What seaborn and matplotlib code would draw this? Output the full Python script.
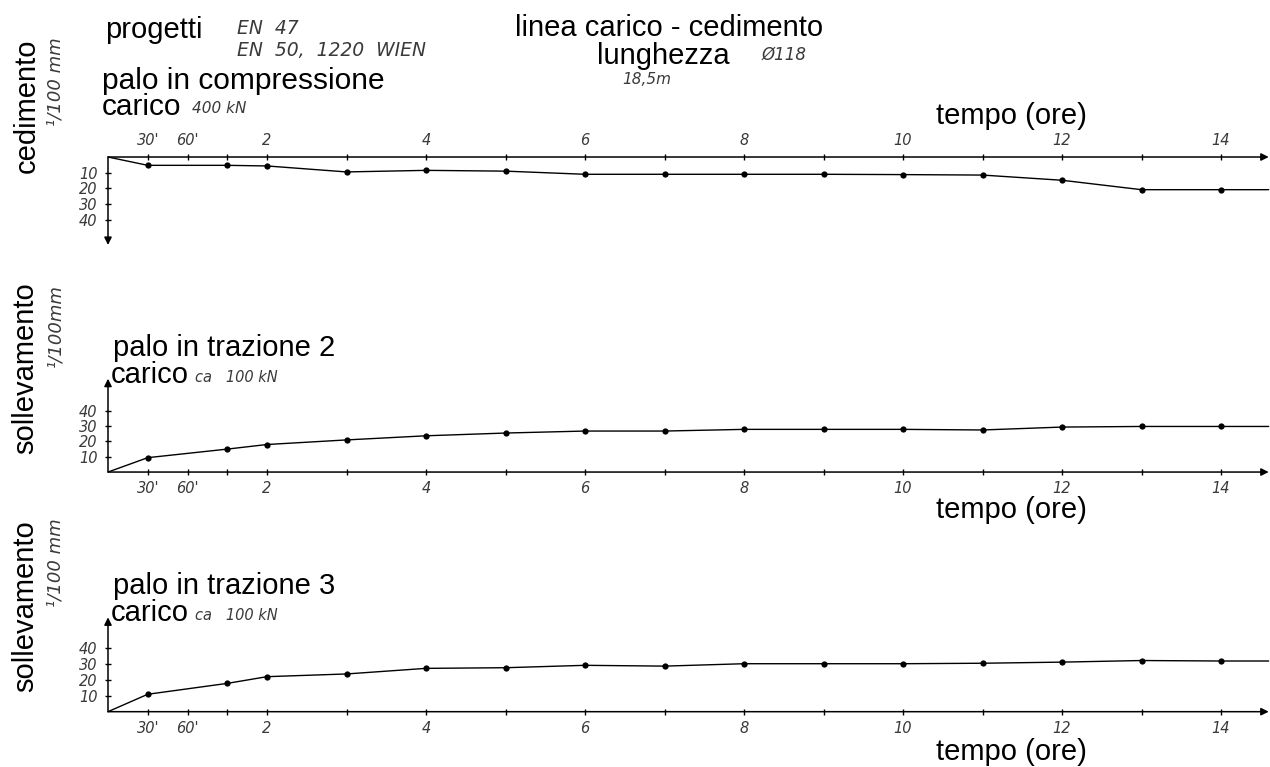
import matplotlib
matplotlib.use("Agg")
import matplotlib.pyplot as plt
import seaborn as sns
import pandas as pd

# ---------------- data ----------------
time_h = [0, 0.5, 1.5, 2, 3, 4, 5, 6, 7, 8, 9, 10, 11, 12, 13, 14, 14.6]
cedimento = [0, 5.3, 5.3, 5.7, 9.5, 8.5, 9, 11, 11, 11, 11, 11.2, 11.5, 14.8, 20.8, 20.8, 20.8]
sollevamento_2 = [0, 9.4, 15, 18, 21, 23.7, 25.5, 26.8, 26.8, 27.9, 27.9, 27.9, 27.5, 29.4, 29.8, 29.8, 29.8]
sollevamento_3 = [0, 10.9, 17.7, 21.9, 23.6, 27.1, 27.5, 29, 28.5, 30, 30, 30, 30.3, 31, 32, 31.7, 31.7]

x_ticks = [0.5, 1, 1.5, 2, 3, 4, 5, 6, 7, 8, 9, 10, 11, 12, 13, 14]
x_tick_labels = ["30'", "60'", "", "2", "", "4", "", "6", "", "8", "", "10", "", "12", "", "14"]
y_ticks = [10, 20, 30, 40]
y_tick_labels = ["10", "20", "30", "40"]

# ---------------- figure ----------------
sns.set_theme(style="white")
plt.rcParams["font.family"] = ["Liberation Sans", "DejaVu Sans"]

W, H = 1270, 767
fig = plt.figure(figsize=(W / 100, H / 100), dpi=100)
fig.patch.set_facecolor("white")

BIG = 21
SMALL = 10.5
SMALLC = "#3a3a3a"


def ft(x, y, s, size=BIG, italic=False, color="black", rot=0, ha="left", va="baseline", family=None):
    kw = {}
    if family is not None:
        kw["family"] = family
    fig.text(x / W, 1 - y / H, s, fontsize=size, fontstyle="italic" if italic else "normal",
             color=color, rotation=rot, ha=ha, va=va, **kw)


X0 = 108
XMAX = (W - X0) / 79.5
X_END = 14.6


def panel(top_px, bottom_px, ylim, values, down=False, arrow_len=60):
    ax = fig.add_axes([X0 / W, 1 - bottom_px / H, (W - X0) / W, (bottom_px - top_px) / H])
    ax.set_facecolor("none")
    df = pd.DataFrame({"t": time_h, "v": values})
    sns.lineplot(data=df, x="t", y="v", ax=ax, color="black", lw=1.0, marker="o",
                 markersize=4.5, markeredgewidth=0, markevery=slice(1, len(time_h) - 1),
                 errorbar=None, sort=False)
    ax.set_xlim(0, XMAX)
    ax.set_ylim(*ylim)
    for s in ax.spines.values():
        s.set_visible(False)
    side = "top" if down else "bottom"
    ax.spines[side].set_position(("data", 0))
    ax.spines["left"].set_position(("data", 0))
    ax.xaxis.set_ticks_position(side)
    ax.yaxis.set_ticks_position("left")
    ax.set_xticks(x_ticks)
    ax.set_xticklabels(x_tick_labels)
    ax.set_yticks(y_ticks)
    ax.set_yticklabels(y_tick_labels)
    ax.tick_params(axis="x", direction="inout", length=5, width=1, pad=4, labelsize=SMALL,
                   colors="black", labelcolor=SMALLC)
    ax.tick_params(axis="y", direction="inout", length=5, width=1, pad=5, labelsize=SMALL,
                   colors="black", labelcolor=SMALLC)
    for lab in ax.get_xticklabels() + ax.get_yticklabels():
        lab.set_fontstyle("italic")
        lab.set_family("DejaVu Sans")
    ax.set_xlabel("")
    ax.set_ylabel("")
    ax.grid(False)
    ap = dict(arrowstyle="-|>", lw=1.1, color="black", shrinkA=0, shrinkB=0, mutation_scale=11)
    ax.annotate("", xy=(X_END, 0), xytext=(0, 0), arrowprops=ap, annotation_clip=False)
    ax.annotate("", xy=(0, arrow_len), xytext=(0, 0), arrowprops=ap, annotation_clip=False)
    return ax


# panel 1 : compression (settlement downward)
panel(150, 250, (59.2, -4.46), cedimento, down=True, arrow_len=56)
# panel 2 : tension pile 2
panel(372, 480, (-5.2, 65.4), sollevamento_2, arrow_len=61)
# panel 3 : tension pile 3
panel(610, 720, (-5.2, 63.6), sollevamento_3, arrow_len=59)

# ---------------- texts ----------------
DV = "DejaVu Sans"
# header
ft(105, 38, "progetti")
ft(237, 34, "EN  47", size=13.5, italic=True, color=SMALLC, family=DV)
ft(237, 56, "EN  50,  1220  WIEN", size=13.5, italic=True, color=SMALLC, family=DV)
ft(102, 89, "palo in compressione", size=21.5)
ft(102, 115, "carico", size=21.5)
ft(192, 113, "400 kN", size=11, italic=True, color=SMALLC, family=DV)
ft(515, 36, "linea carico - cedimento")
ft(597, 64, "lunghezza")
ft(762, 60, "Ø118", size=12, italic=True, color=SMALLC, family=DV)
ft(622, 84, "18,5m", size=11, italic=True, color=SMALLC, family=DV)
ft(936, 124, "tempo (ore)")

# y labels
ft(27, 106, "cedimento", rot=90, ha="center", va="center")
ft(55, 82, "¹/100 mm", size=13, italic=True, color=SMALLC, rot=90, ha="center", va="center", family=DV)

ft(25, 368, "sollevamento", rot=90, ha="center", va="center")
ft(55, 326, "¹/100mm", size=13, italic=True, color=SMALLC, rot=90, ha="center", va="center", family=DV)

ft(25, 606, "sollevamento", rot=90, ha="center", va="center")
ft(55, 563, "¹/100 mm", size=13, italic=True, color=SMALLC, rot=90, ha="center", va="center", family=DV)

# panel 2 texts
ft(113, 356, "palo in trazione 2")
ft(111, 383, "carico")
ft(195, 382, "ca   100 kN", size=10.5, italic=True, color=SMALLC, family=DV)
ft(936, 518, "tempo (ore)")

# panel 3 texts
ft(113, 594, "palo in trazione 3")
ft(111, 621, "carico")
ft(195, 620, "ca   100 kN", size=10.5, italic=True, color=SMALLC, family=DV)
ft(936, 760, "tempo (ore)")

fig.savefig("out.png", dpi=100, facecolor="white")
